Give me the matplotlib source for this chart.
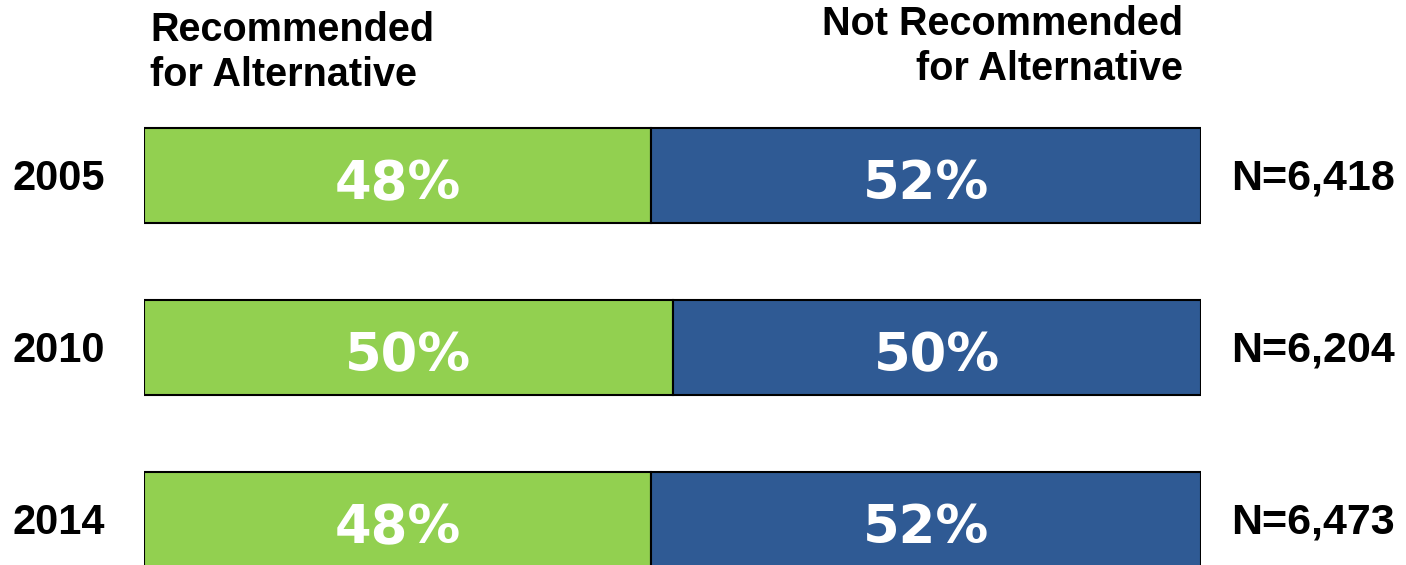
import matplotlib.pyplot as plt

years = ['2005', '2010', '2014']
recommended = [48, 50, 48]
not_recommended = [52, 50, 52]
n_labels = ['N=6,418', 'N=6,204', 'N=6,473']

green = '#92D050'
blue = '#2F5A94'

plt.rcParams['font.family'] = ['Liberation Sans', 'DejaVu Sans']
plt.rcParams['font.weight'] = 'bold'

PX = 72 / 100  # points per pixel at dpi 100

fig = plt.figure(figsize=(14.06, 5.65), dpi=100)
ax = fig.add_axes([144 / 1406, 0, 1057 / 1406, 1])

pos = list(range(len(years)))
ax.barh(pos, recommended, height=0.553, color=green, edgecolor='black', linewidth=1.5)
ax.barh(pos, not_recommended, left=recommended, height=0.553, color=blue,
        edgecolor='black', linewidth=1.5)

# heavy, wide face for the percentages (closest to Arial Black available)
pct_font = dict(family='DejaVu Sans', fontweight='bold', fontsize=38, color='white')
for i in pos:
    ax.annotate(f'{recommended[i]}%', (recommended[i] / 2, i), xytext=(0, -24 * PX),
                textcoords='offset points', ha='center', va='baseline', **pct_font)
    ax.annotate(f'{not_recommended[i]}%', (recommended[i] + not_recommended[i] / 2, i),
                xytext=(0, -24 * PX), textcoords='offset points', ha='center',
                va='baseline', **pct_font)
    ax.annotate(years[i], (-3.7, i), xytext=(0, -15 * PX), textcoords='offset points',
                ha='right', va='baseline', fontsize=30, fontweight='bold',
                annotation_clip=False)
    ax.annotate(n_labels[i], (110.6, i), xytext=(0, -14 * PX), textcoords='offset points',
                ha='center', va='baseline', fontsize=31, fontweight='bold',
                annotation_clip=False)

ax.set_xlim(0, 100)
ax.set_ylim(2.265, -1.020)
ax.axis('off')

fig.text(150 / 1406, 1 - 86 / 565, 'Recommended\nfor Alternative', ha='left', va='baseline',
         fontsize=28.5, fontweight='bold', linespacing=1.23)
fig.text(1183 / 1406, 1 - 80 / 565, 'Not Recommended\nfor Alternative', ha='right',
         va='baseline', fontsize=28.5, fontweight='bold', linespacing=1.23,
         multialignment='right')

fig.savefig('out.png', dpi=100)
